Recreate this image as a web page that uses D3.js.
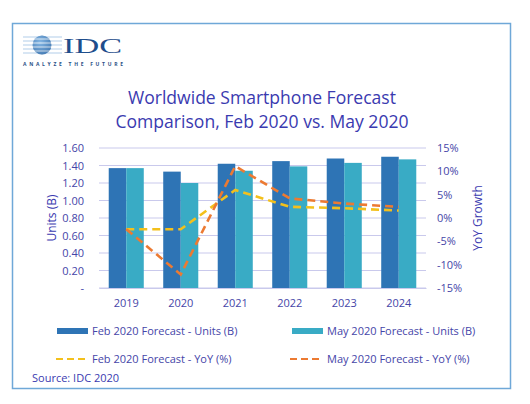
<!DOCTYPE html>
<html>
<head>
<meta charset="utf-8">
<script src="https://cdn.jsdelivr.net/npm/d3@7"></script>
<style>
  html, body { margin: 0; padding: 0; background: #fff; }
  svg { display: block; }
  text { font-family: "Open Sans", "Noto Sans", sans-serif; }
</style>
</head>
<body>
<script>
const years = ["2019", "2020", "2021", "2022", "2023", "2024"];
const febUnits = [1.37, 1.33, 1.42, 1.45, 1.48, 1.50];
const mayUnits = [1.37, 1.20, 1.34, 1.39, 1.43, 1.47];
const febYoY = [-2.4, -2.4, 6.0, 2.4, 2.1, 1.6];
const mayYoY = [-2.4, -12.1, 11.1, 4.2, 3.1, 2.4];
const leftTicks = [0, 0.2, 0.4, 0.6, 0.8, 1.0, 1.2, 1.4, 1.6];
const rightTicks = [-15, -10, -5, 0, 5, 10, 15];
const seriesNames = ["Feb 2020 Forecast - Units (B)", "May 2020 Forecast - Units (B)",
                     "Feb 2020 Forecast - YoY (%)", "May 2020 Forecast - YoY (%)"];

const W = 530, H = 404;
const cFeb = "#2e74b5", cMay = "#39abc5", cFebL = "#f3c01c", cMayL = "#ec7a32";
const txt = "#4545a8", title = "#3a3ab0", grid = "#c9c9ec";

const svg = d3.select("body").append("svg").attr("width", W).attr("height", H);

// frame
svg.append("rect").attr("x", 12.5).attr("y", 23.5).attr("width", 498).attr("height", 365)
  .attr("fill", "#fff").attr("stroke", "#6fa8d8").attr("stroke-width", 1.5);

// logo
const logo = svg.append("g");
const grad = svg.append("defs").append("radialGradient").attr("id", "sph")
  .attr("cx", "40%").attr("cy", "35%").attr("r", "70%");
grad.append("stop").attr("offset", "0%").attr("stop-color", "#7fb6e6");
grad.append("stop").attr("offset", "100%").attr("stop-color", "#1f5d9e");
logo.append("circle").attr("cx", 42).attr("cy", 45).attr("r", 9.5).attr("fill", "url(#sph)");
for (let i = 0; i < 9; i++) {
  const y = 37 + i * 2;
  logo.append("line").attr("x1", 23).attr("x2", 62).attr("y1", y).attr("y2", y)
    .attr("stroke", i % 2 ? "#ffffff" : "#8fb8e0").attr("stroke-width", i % 2 ? 0.9 : 0.7);
}
logo.append("text").attr("x", 63).attr("y", 53).text("IDC")
  .attr("font-family", "'Liberation Serif', 'DejaVu Serif', serif").style("font-family", "'Liberation Serif', serif")
  .attr("font-size", 21).attr("fill", "#1f4e8c").attr("textLength", 59).attr("lengthAdjust", "spacingAndGlyphs");
logo.append("text").attr("x", 23).attr("y", 66).text("ANALYZE THE FUTURE")
  .attr("font-size", 5).attr("font-weight", "bold").attr("fill", "#2a4f86")
  .attr("textLength", 100).attr("lengthAdjust", "spacing");

// title
svg.append("text").attr("x", 262).attr("y", 104).attr("text-anchor", "middle")
  .attr("font-size", 17.5).attr("fill", title).text("Worldwide Smartphone Forecast")
  .attr("textLength", 268).attr("lengthAdjust", "spacingAndGlyphs");
svg.append("text").attr("x", 262).attr("y", 128).attr("text-anchor", "middle")
  .attr("font-size", 17.5).attr("fill", title).text("Comparison, Feb 2020 vs. May 2020")
  .attr("textLength", 293).attr("lengthAdjust", "spacingAndGlyphs");

// scales
const x0 = 99, x1 = 426, yTop = 148, yBot = 288;
const x = d3.scaleBand().domain(years).range([x0, x1]).paddingInner(0.357).paddingOuter(0.1785);
const xs = d3.scaleBand().domain(["feb", "may"]).range([0, x.bandwidth()]);
const yL = d3.scaleLinear().domain([0, 1.6]).range([yBot, yTop]);
const yR = d3.scaleLinear().domain([-15, 15]).range([yBot, yTop]);

// gridlines
svg.append("g").selectAll("line").data(leftTicks).join("line")
  .attr("x1", x0).attr("x2", x1).attr("y1", d => yL(d)).attr("y2", d => yL(d))
  .attr("stroke", grid).attr("stroke-width", 1);

// left axis
const axL = svg.append("g").attr("transform", `translate(${x0},0)`)
  .call(d3.axisLeft(yL).tickValues(leftTicks).tickSize(0).tickPadding(15)
    .tickFormat(d => d === 0 ? "-" : d3.format(".2f")(d)));
axL.select(".domain").remove();
axL.selectAll("text").attr("fill", txt).attr("font-size", 11).style("font-family", "'Open Sans', sans-serif");

// right axis
const axR = svg.append("g").attr("transform", `translate(${x1},0)`)
  .call(d3.axisRight(yR).tickValues(rightTicks).tickSize(0).tickPadding(11)
    .tickFormat(d => d + "%"));
axR.select(".domain").remove();
axR.selectAll("text").attr("fill", txt).attr("font-size", 11).style("font-family", "'Open Sans', sans-serif");

// bottom axis
const axB = svg.append("g").attr("transform", `translate(0,${yBot})`)
  .call(d3.axisBottom(x).tickSize(0).tickPadding(11));
axB.select(".domain").attr("stroke", grid);
axB.selectAll("text").attr("fill", txt).attr("font-size", 11).style("font-family", "'Open Sans', sans-serif");

// axis titles
svg.append("text").attr("transform", `translate(56,218) rotate(-90)`).attr("text-anchor", "middle")
  .attr("font-size", 12).attr("fill", title).text("Units (B)");
svg.append("text").attr("transform", `translate(482,218) rotate(-90)`).attr("text-anchor", "middle")
  .attr("font-size", 12).attr("fill", title).text("YoY Growth");

// bars
const barsG = svg.append("g");
barsG.selectAll(".feb").data(years).join("rect").attr("class", "feb")
  .attr("x", d => x(d) + xs("feb")).attr("width", xs.bandwidth())
  .attr("y", (d, i) => yL(febUnits[i])).attr("height", (d, i) => yBot - yL(febUnits[i]))
  .attr("fill", cFeb);
barsG.selectAll(".may").data(years).join("rect").attr("class", "may")
  .attr("x", d => x(d) + xs("may")).attr("width", xs.bandwidth())
  .attr("y", (d, i) => yL(mayUnits[i])).attr("height", (d, i) => yBot - yL(mayUnits[i]))
  .attr("fill", cMay);

// lines
const line = d3.line().x((d, i) => x(years[i]) + x.bandwidth() / 2).y(d => yR(d));
svg.append("path").datum(febYoY).attr("d", line).attr("fill", "none")
  .attr("stroke", cFebL).attr("stroke-width", 2.6).attr("stroke-dasharray", "8,5");
svg.append("path").datum(mayYoY).attr("d", line).attr("fill", "none")
  .attr("stroke", cMayL).attr("stroke-width", 2.6).attr("stroke-dasharray", "8,5");

// legend
const leg = [
  { name: seriesNames[0], type: "bar", color: cFeb, sx: 57, tx: 92, y: 331 },
  { name: seriesNames[1], type: "bar", color: cMay, sx: 292, tx: 327, y: 331 },
  { name: seriesNames[2], type: "line", color: cFebL, sx: 56, tx: 92, y: 359 },
  { name: seriesNames[3], type: "line", color: cMayL, sx: 290, tx: 327, y: 359 }
];
const lg = svg.append("g");
leg.forEach(l => {
  if (l.type === "bar") {
    lg.append("rect").attr("x", l.sx).attr("y", l.y - 3).attr("width", 31).attr("height", 6).attr("fill", l.color);
  } else {
    lg.append("line").attr("x1", l.sx).attr("x2", l.sx + 31).attr("y1", l.y).attr("y2", l.y)
      .attr("stroke", l.color).attr("stroke-width", 2).attr("stroke-dasharray", "7,4");
  }
  lg.append("text").attr("x", l.tx).attr("y", l.y + 4).attr("font-size", 11).attr("fill", txt).text(l.name);
});

svg.append("text").attr("x", 32).attr("y", 382).attr("font-size", 11).attr("fill", title).text("Source: IDC 2020");
</script>
</body>
</html>
